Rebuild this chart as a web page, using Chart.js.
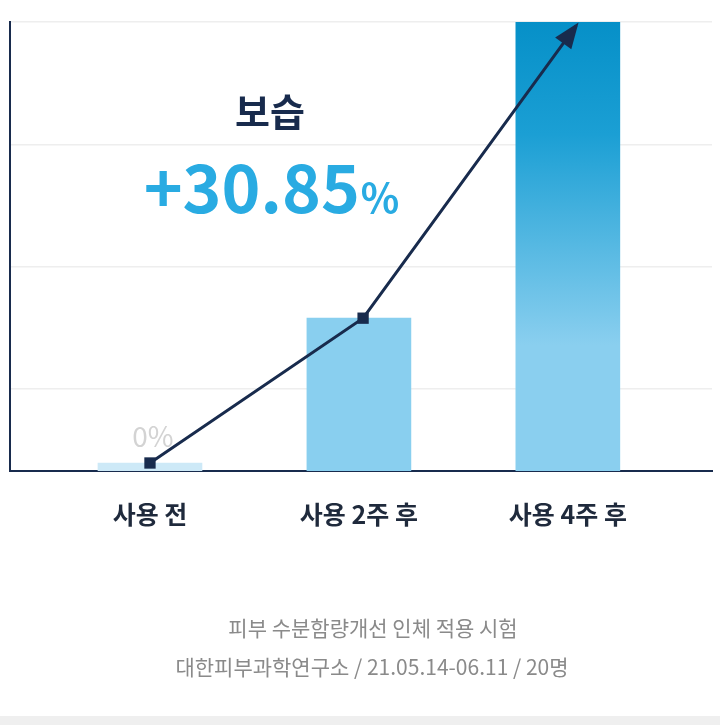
<!DOCTYPE html>
<html><head><meta charset="utf-8">
<script src="https://cdn.jsdelivr.net/npm/chart.js@4"></script>
<style>html,body{margin:0;padding:0;background:#fff}canvas{display:block}</style>
</head><body>
<div style="width:720px;height:725px"><canvas id="c"></canvas></div>
<script>
const categories = ['사용 전', '사용 2주 후', '사용 4주 후'];
const barValues = [0.55, 10.5, 30.85];
const lineX = [0, 1.02, 2.04];
const lineValues = [0.55, 10.5, 30.6];
const gridValues = [5.63, 14.02, 22.4, 30.85];
const titleText = '보습';
const resultText = '+30.85';
const baseLabel = '0%';
const captions = ['피부 수분함량개선 인체 적용 시험', '대한피부과학연구소 / 21.05.14-06.11 / 20명'];
const FONT = '"Noto Sans CJK KR","Noto Sans",sans-serif';
const NAVY = '#182b4d';

const ctx = document.getElementById('c');
const overlay = {
  id: 'overlay',
  afterDatasetsDraw(chart) {
    const c = chart.ctx, xs = chart.scales.x, ys = chart.scales.y;
    const n = lineX.length;
    const x1 = xs.getPixelForValue(lineX[n-2]), y1 = ys.getPixelForValue(lineValues[n-2]);
    const x2 = xs.getPixelForValue(lineX[n-1]), y2 = ys.getPixelForValue(lineValues[n-1]);
    const a = Math.atan2(y2 - y1, x2 - x1);
    c.save();
    c.fillStyle = NAVY;
    c.beginPath();
    c.moveTo(x2 + 4*Math.cos(a), y2 + 4*Math.sin(a));
    c.lineTo(x2 - 22*Math.cos(a) + 10*Math.sin(a), y2 - 22*Math.sin(a) - 10*Math.cos(a));
    c.lineTo(x2 - 22*Math.cos(a) - 10*Math.sin(a), y2 - 22*Math.sin(a) + 10*Math.cos(a));
    c.closePath(); c.fill();
    c.textAlign = 'center'; c.textBaseline = 'middle';
    c.fillStyle = NAVY; c.font = 'bold 38px ' + FONT;
    c.fillText(titleText, 270, 112);
    c.fillStyle = '#29abe2'; c.font = 'bold 66px ' + FONT;
    const w1 = c.measureText(resultText).width;
    c.font = 'bold 40px ' + FONT;
    const w2 = c.measureText('%').width;
    const sx = 271 - (w1 + w2) / 2;
    c.textAlign = 'left';
    c.font = 'bold 66px ' + FONT; c.fillText(resultText, sx, 188);
    c.font = 'bold 40px ' + FONT; c.fillText('%', sx + w1 + 1, 198);
    c.textAlign = 'center';
    c.fillStyle = '#d3d3d3'; c.font = '28px ' + FONT;
    c.fillText(baseLabel, xs.getPixelForValue(0) + 3, 436);
    c.fillStyle = '#8a8a8a'; c.font = '21px ' + FONT;
    c.fillText(captions[0], 373, 628);
    c.fillText(captions[1], 372, 667);
    c.fillStyle = '#efefef'; c.fillRect(0, 716, 720, 9);
    c.restore();
  }
};

new Chart(ctx, {
  data: {
    datasets: [
      {
        type: 'line', order: 0,
        data: lineX.map((x, i) => ({x, y: lineValues[i]})),
        borderColor: NAVY, borderWidth: 3,
        pointStyle: 'rect', pointRadius: [8, 8, 0], pointBackgroundColor: NAVY, pointBorderWidth: 0,
        tension: 0
      },
      {
        type: 'bar', order: 1,
        data: barValues.map((v, i) => ({x: i, y: v})),
        barThickness: 104,
        backgroundColor: (c) => {
          const i = c.dataIndex;
          if (i === 0) return '#cde9f7';
          if (i === 1) return '#89cfef';
          const ca = c.chart.chartArea;
          if (!ca) return '#0a8ec6';
          const g = c.chart.ctx.createLinearGradient(0, ca.top, 0, ca.bottom);
          g.addColorStop(0, '#0690c8');
          g.addColorStop(0.25, '#1b9fd4');
          g.addColorStop(0.72, '#8acfef');
          g.addColorStop(1, '#8acfef');
          return g;
        }
      }
    ]
  },
  options: {
    responsive: true, maintainAspectRatio: false, animation: false,
    layout: {padding: {left: 10, top: 22, right: 0, bottom: 0}},
    plugins: {legend: {display: false}, tooltip: {enabled: false}},
    scales: {
      x: {
        type: 'linear', min: -0.67, max: 2.69, offset: false,
        afterBuildTicks: (s) => { s.ticks = categories.map((_, i) => ({value: i})); },
        afterFit: (s) => { s.height = 254; },
        ticks: {callback: (v) => categories[v] ?? '', color: '#1f2a3c', padding: 20,
                font: {family: FONT, size: 25, weight: 'bold'}, maxRotation: 0},
        grid: {display: false, offset: false},
        border: {color: NAVY, width: 2}
      },
      y: {
        min: 0, max: 30.85,
        afterBuildTicks: (s) => { s.ticks = gridValues.map(v => ({value: v})); },
        afterFit: (s) => { s.width = 0; },
        ticks: {display: false},
        grid: {color: '#eeeeee', lineWidth: 1.5, drawTicks: false},
        border: {color: NAVY, width: 2}
      }
    }
  },
  plugins: [overlay]
});
</script>
</body></html>
